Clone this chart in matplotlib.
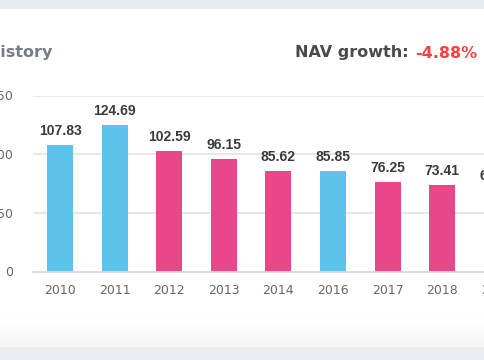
import numpy as np
import matplotlib
matplotlib.use('Agg')
import matplotlib.pyplot as plt

years = ['2010', '2011', '2012', '2013', '2014', '2016', '2017', '2018', '2019']
nav = [107.83, 124.69, 102.59, 96.15, 85.62, 85.85, 76.25, 73.41, 69.83]
y_ticks = [0, 50, 100, 150]
growth = '-4.88%'

blue = '#5EC3EA'
pink = '#E8488A'
colors = [blue if i == 0 or nav[i] >= nav[i - 1] else pink for i in range(len(nav))]

W, H = 485, 360
fig = plt.figure(figsize=(W / 100, H / 100), dpi=100)
fig.patch.set_facecolor('white')

# page background: grey bands top and bottom, card fading out at the bottom
bg = fig.add_axes([0, 0, 1, 1])
bg.set_xlim(0, W)
bg.set_ylim(H, 0)
bg.axis('off')
grad = np.ones((H, 1, 3))
grad[0:9] = [0.905, 0.922, 0.940]
for r in range(318, 347):
    t = (r - 318) / 29.0
    grad[r] = 1 - t * 0.04
grad[347:] = [0.910, 0.925, 0.945]
bg.imshow(grad, extent=[0, W, H, 0], aspect='auto', interpolation='bilinear')

bg.text(52, 53, 'NAV History', ha='right', va='center', fontsize=11.5,
        fontweight='bold', color='#757B88', family='DejaVu Sans')
bg.text(409, 53, 'NAV growth:', ha='right', va='center', fontsize=11.5,
        fontweight='bold', color='#4A4A4A', family='DejaVu Sans')
bg.text(415, 53, growth, ha='left', va='center', fontsize=11.5,
        fontweight='bold', color='#FF4040', family='DejaVu Sans')

# chart axes, wider than the figure (the right part is cut off)
step = 54.6
left = 32.7
ax = fig.add_axes([left / W, (H - 271.5) / H, 9 * step / W, 176 / H])
ax.set_facecolor('none')
x = np.arange(len(years))
ax.bar(x, nav, width=0.476, color=colors, zorder=3)
ax.set_xlim(-0.5, len(years) - 0.5)
ax.set_ylim(0, 150)
ax.set_yticks(y_ticks)
ax.set_xticks(x)
ax.set_xticklabels(years)
ax.grid(axis='y', color='#E6E6E6', linewidth=1.3, zorder=0)
for s in ['top', 'right', 'left']:
    ax.spines[s].set_visible(False)
ax.spines['bottom'].set_color('#D5DBF0')
ax.spines['bottom'].set_linewidth(1.3)
ax.spines['bottom'].set_zorder(4)
ax.tick_params(axis='both', length=0, labelsize=9, labelcolor='#666666')
ax.tick_params(axis='x', pad=9)
ax.tick_params(axis='y', pad=14)

for xi, v in zip(x, nav):
    ax.annotate('{:.2f}'.format(v), (xi, v), xytext=(0, 5), textcoords='offset points',
                ha='center', va='bottom', fontsize=10, fontweight='bold',
                color='#3A3A3A', family='Liberation Sans')

fig.savefig('out.png', dpi=100)
